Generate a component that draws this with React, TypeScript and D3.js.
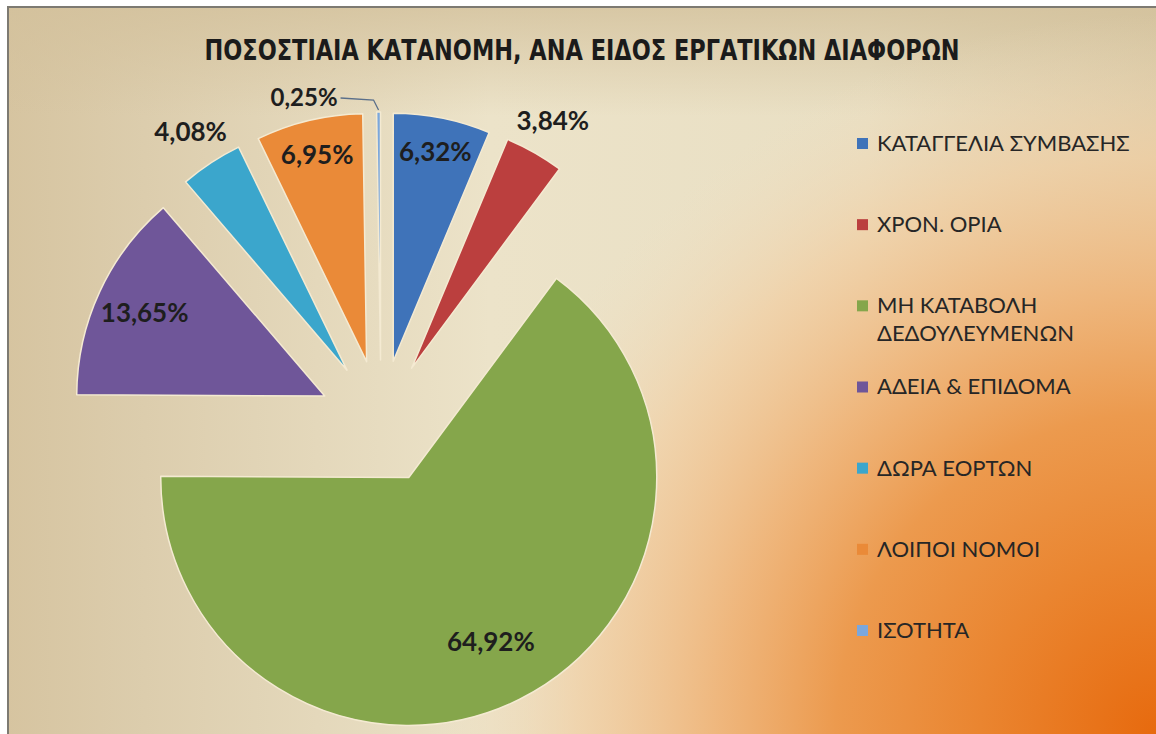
import * as d3 from 'd3';

const title = 'ΠΟΣΟΣΤΙΑΙΑ ΚΑΤΑΝΟΜΗ, ΑΝΑ ΕΙΔΟΣ ΕΡΓΑΤΙΚΩΝ ΔΙΑΦΟΡΩΝ';

const categories = [
  'ΚΑΤΑΓΓΕΛΙΑ ΣΥΜΒΑΣΗΣ',
  'ΧΡΟΝ. ΟΡΙΑ',
  'ΜΗ ΚΑΤΑΒΟΛΗ ΔΕΔΟΥΛΕΥΜΕΝΩΝ',
  'ΑΔΕΙΑ & ΕΠΙΔΟΜΑ',
  'ΔΩΡΑ ΕΟΡΤΩΝ',
  'ΛΟΙΠΟΙ ΝΟΜΟΙ',
  'ΙΣΟΤΗΤΑ',
];
const legendLines = [
  ['ΚΑΤΑΓΓΕΛΙΑ ΣΥΜΒΑΣΗΣ'],
  ['ΧΡΟΝ. ΟΡΙΑ'],
  ['ΜΗ ΚΑΤΑΒΟΛΗ', 'ΔΕΔΟΥΛΕΥΜΕΝΩΝ'],
  ['ΑΔΕΙΑ & ΕΠΙΔΟΜΑ'],
  ['ΔΩΡΑ ΕΟΡΤΩΝ'],
  ['ΛΟΙΠΟΙ ΝΟΜΟΙ'],
  ['ΙΣΟΤΗΤΑ'],
];
const values = [6.32, 3.84, 64.92, 13.65, 4.08, 6.95, 0.25];
const labels = ['6,32%', '3,84%', '64,92%', '13,65%', '4,08%', '6,95%', '0,25%'];
const colors = ['#3f73b9', '#bb3f3e', '#85a64b', '#6f5699', '#3ba6cc', '#ea8a38', '#7ba7dc'];

const W = 1156;
const H = 734;
const cx = 381;
const cy = 422;
const R = 248;
const explode = 62;

// point along angle a (clockwise from 12 o'clock)
const polar = (a: number, r: number) => [Math.sin(a) * r, -Math.cos(a) * r];

export default function App() {
  const pie = d3.pie<number>().sort(null).value((d) => d)(values);
  const arc = d3.arc<d3.PieArcDatum<number>>().innerRadius(0).outerRadius(R);
  const legendY = d3.scalePoint<string>().domain(categories).range([143, 630]);
  const labelFont = 'Lato, "Open Sans", sans-serif';
  const labelSize = 26;

  const slices = pie.map((p, i) => {
    const mid = (p.startAngle + p.endAngle) / 2;
    const [ox, oy] = polar(mid, explode);
    const ax = cx + ox;
    const ay = cy + oy;
    const share = values[i];
    let label;
    if (share < 1) {
      const [tx, ty] = polar(mid, R + 2);
      const tip = [ax + tx, ay + ty];
      const elbow = [tip[0] - 5, tip[1] - 10];
      const end = [elbow[0] - 33, elbow[1] - 2];
      label = (
        <g>
          <polyline
            points={[end, elbow, tip].map((q) => q.join(',')).join(' ')}
            fill='none'
            stroke='#5a6f8a'
            strokeWidth={1.3}
          />
          <text x={end[0] - 3} y={end[1] + 8} textAnchor='end' fontSize={labelSize - 2} fontWeight='bold' fill='#1e1e1e' fontFamily={labelFont}>
            {labels[i]}
          </text>
        </g>
      );
    } else {
      const rr = share < 5 ? R * 1.15 : share > 50 ? R * 0.74 : share > 10 ? R * 0.8 : R * 0.86;
      const [lx, ly] = polar(mid, rr);
      label = (
        <text x={ax + lx} y={ay + ly} dy='0.36em' textAnchor='middle' fontSize={labelSize} fontWeight='bold' fill='#1e1e1e' fontFamily={labelFont}>
          {labels[i]}
        </text>
      );
    }
    return (
      <g key={i}>
        <path
          d={arc(p) || ''}
          transform={`translate(${ax},${ay})`}
          fill={colors[i]}
          stroke='#f4ead2'
          strokeWidth={1.5}
          strokeLinejoin='round'
        />
        {label}
      </g>
    );
  });

  return (
    <svg width={W} height={H} style={{ position: 'absolute', left: 0, top: 0 }}>
      <defs>
        <linearGradient id='base' x1='0' y1='0' x2='1' y2='0'>
          <stop offset='0' stopColor='#d6c4a0' />
          <stop offset='0.12' stopColor='#dccdad' />
          <stop offset='0.42' stopColor='#ece3c9' />
          <stop offset='0.75' stopColor='#e9dfc3' />
          <stop offset='1' stopColor='#d9caa7' />
        </linearGradient>
        <radialGradient id='glow' cx={W} cy={H} r={800} gradientUnits='userSpaceOnUse'>
          <stop offset='0' stopColor='#e76a0e' stopOpacity={1} />
          <stop offset='0.22' stopColor='#ea8530' stopOpacity={1} />
          <stop offset='0.4' stopColor='#ec9a4e' stopOpacity={1} />
          <stop offset='0.55' stopColor='#efb57a' stopOpacity={0.95} />
          <stop offset='0.72' stopColor='#f1cfa4' stopOpacity={0.75} />
          <stop offset='0.9' stopColor='#f0dfc2' stopOpacity={0} />
        </radialGradient>
        <linearGradient id='topband' x1='0' y1='0' x2='0' y2='1'>
          <stop offset='0' stopColor='#d3c19c' stopOpacity={0.8} />
          <stop offset='0.15' stopColor='#d3c19c' stopOpacity={0} />
        </linearGradient>
      </defs>
      <rect x={0} y={0} width={W} height={H} fill='#ffffff' />
      <rect x={7} y={7} width={W - 7} height={H - 7} fill='url(#base)' />
      <rect x={7} y={7} width={W - 7} height={H - 7} fill='url(#topband)' />
      <rect x={7} y={7} width={W - 7} height={H - 7} fill='url(#glow)' />
      <line x1={7} y1={7} x2={W} y2={7} stroke='#7d7a72' strokeWidth={2} />
      <line x1={8} y1={7} x2={8} y2={H} stroke='#7d7a72' strokeWidth={2} />

      <text
        x={582}
        y={60}
        textAnchor='middle'
        fontSize={28}
        fontWeight='bold'
        fill='#1b1b1b'
        fontFamily='"DejaVu Sans Condensed", "Liberation Sans Narrow", sans-serif'
        textLength={755}
        lengthAdjust='spacingAndGlyphs'
      >
        {title}
      </text>

      {slices}

      {categories.map((c, i) => {
        const y = legendY(c) ?? 0;
        return (
          <g key={c}>
            <rect x={857} y={y - 5} width={11} height={11} fill={colors[i]} />
            {legendLines[i].map((line, j) => (
              <text
                key={j}
                x={877}
                y={y + j * 28}
                dy='0.36em'
                fontSize={22}
                fill='#262626'
                fontFamily={labelFont}
              >
                {line}
              </text>
            ))}
          </g>
        );
      })}
    </svg>
  );
}
